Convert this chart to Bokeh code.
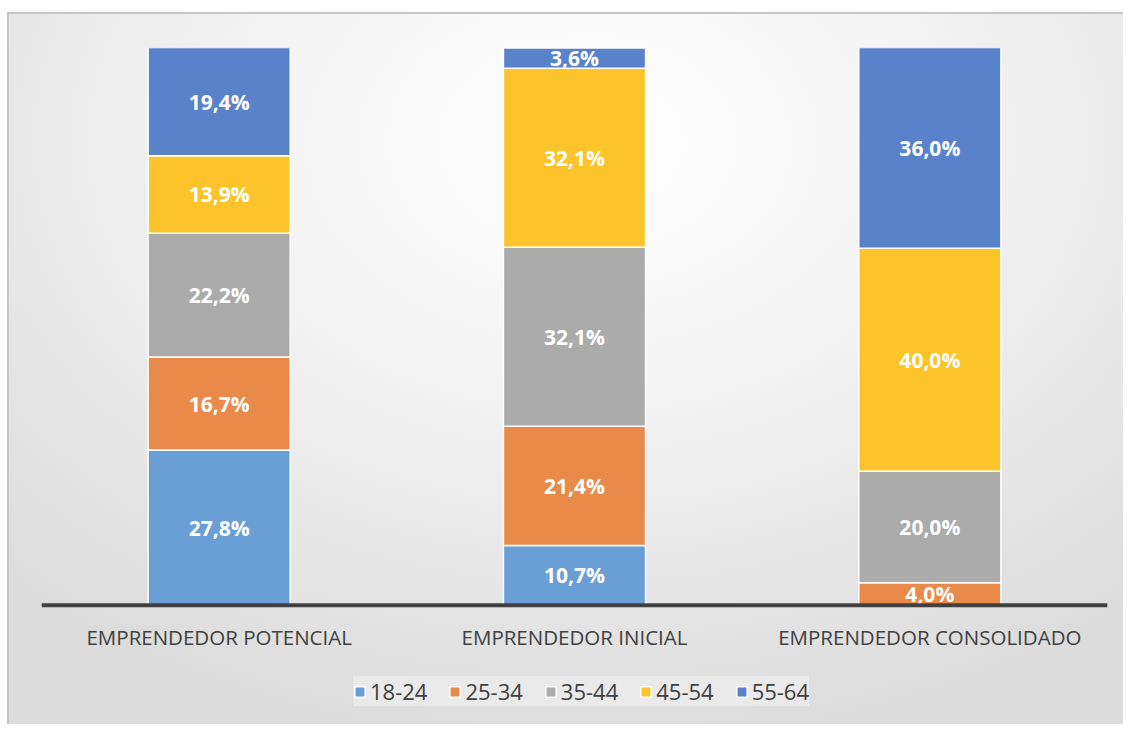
from bokeh.plotting import figure
from bokeh.models import ColumnDataSource, Legend, LegendItem, Span
from bokeh.core.properties import value
from bokeh.embed import file_html
from bokeh.resources import INLINE

categories = ["EMPRENDEDOR POTENCIAL", "EMPRENDEDOR INICIAL", "EMPRENDEDOR CONSOLIDADO"]
age_groups = ["18-24", "25-34", "35-44", "45-54", "55-64"]
v_18_24 = [27.8, 10.7, 0.0]
v_25_34 = [16.7, 21.4, 4.0]
v_35_44 = [22.2, 32.1, 20.0]
v_45_54 = [13.9, 32.1, 40.0]
v_55_64 = [19.4, 3.6, 36.0]
colors = ["#6A9FD6", "#EA8A4A", "#ABABAB", "#FCC42A", "#5A82CB"]

series = [v_18_24, v_25_34, v_35_44, v_45_54, v_55_64]
data = {"cat": categories}
for g, s in zip(age_groups, series):
    data[g] = s
source = ColumnDataSource(data)

# layout (pixels)
H = 712
TOP = 33
BAR_PX = 556          # pixels for 0..100 %
frame_h = H - 2 - TOP
below_px = frame_h - BAR_PX
ymin = -100.0 * below_px / BAR_PX

p = figure(x_range=categories, y_range=(ymin, 100), width=1116, height=H,
           output_backend="svg", toolbar_location=None,
           min_border_left=32, min_border_right=18, min_border_top=TOP, min_border_bottom=0)
p.background_fill_alpha = 0
p.border_fill_alpha = 0
p.outline_line_color = None
p.styles = {
    "background": "radial-gradient(ellipse 75% 85% at 52% 18%, #FFFFFF 0%, #F4F4F4 40%, #DCDCDC 100%)",
    "border-top": "2px solid #C6C6C6",
    "border-left": "2px solid #C6C6C6",
    "margin-top": "12px",
    "margin-left": "7px",
}
p.x_range.range_padding = 0.0
p.xaxis.visible = False
p.yaxis.visible = False
p.xgrid.grid_line_color = None
p.ygrid.grid_line_color = None

renderers = p.vbar_stack(age_groups, x="cat", width=0.40, color=colors, source=source,
                         line_color="white", line_width=1.5)

# baseline axis line
p.add_layout(Span(location=0, dimension="width", line_color="#404040", line_width=4))

# category labels under the axis
p.text(x=categories, y=[0] * len(categories), text=categories, text_color="#404040",
       text_font=value("Open Sans"), text_font_size="20.5px", text_align="center",
       text_baseline="middle", y_offset=32)

# data labels
lx, ly, lt = [], [], []
for i, c in enumerate(categories):
    base = 0.0
    for s in series:
        v = s[i]
        if v > 0:
            lx.append(c)
            ly.append(base + v / 2)
            lt.append(f"{v:.1f}".replace(".", ",") + "%")
        base += v
p.text(x=lx, y=ly, text=lt, text_color="white", text_font=value("Open Sans"),
       text_font_style="bold", text_font_size="21px", text_align="center",
       text_baseline="middle")

legend = Legend(items=[LegendItem(label=g, renderers=[r]) for g, r in zip(age_groups, renderers)],
                orientation="horizontal", location=(312, 20))
legend.background_fill_color = "#EAEAEA"
legend.background_fill_alpha = 1
legend.border_line_color = None
legend.label_text_font = "Open Sans"
legend.label_text_font_size = "22px"
legend.label_text_color = "#404040"
legend.glyph_width = 13
legend.glyph_height = 13
legend.label_standoff = 4
legend.spacing = 21
legend.padding = 13
legend.margin = 0
p.add_layout(legend)

open("out.html", "w").write(file_html(p, INLINE))
